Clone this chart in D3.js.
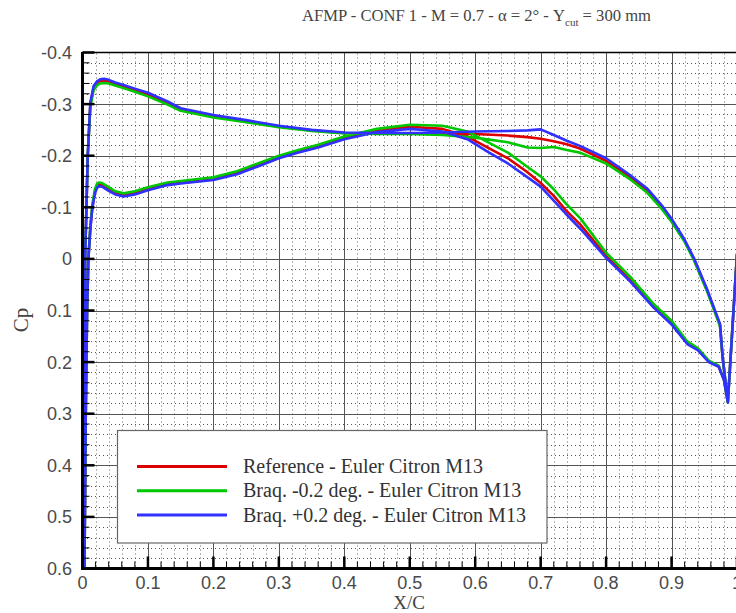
<!DOCTYPE html>
<html>
<head>
<meta charset="utf-8">
<script src="https://cdn.jsdelivr.net/npm/d3@7"></script>
<style>
  body { margin: 0; background: #fff; }
  svg { display: block; }
</style>
</head>
<body>
<svg id="chart" width="736" height="613"></svg>
<script>
// ---- Pressure distribution data (Cp vs X/C) ----
// Upper surface, leading edge -> trailing edge
const upperX = [0, 0.0015, 0.002, 0.003, 0.004, 0.006, 0.008, 0.012, 0.017, 0.022, 0.027, 0.033, 0.04, 0.05, 0.065, 0.08, 0.1, 0.13, 0.15, 0.2, 0.25, 0.3, 0.35, 0.4, 0.45, 0.5, 0.55, 0.6, 0.65, 0.68, 0.7, 0.72, 0.74, 0.76, 0.8, 0.837, 0.863, 0.885, 0.9, 0.92, 0.934, 0.954, 0.974, 0.978, 0.982, 0.986];
const upperRef   = [1.05, 0.6, 0.4, 0.2, 0.0, -0.1, -0.2, -0.3, -0.332, -0.341, -0.345, -0.346, -0.344, -0.34, -0.333, -0.327, -0.319, -0.303, -0.29, -0.277, -0.267, -0.257, -0.249, -0.244, -0.243, -0.243, -0.243, -0.242, -0.239, -0.236, -0.233, -0.228, -0.222, -0.214, -0.19, -0.158, -0.132, -0.1, -0.075, -0.035, 0.0, 0.06, 0.128, 0.19, 0.234, 0.278];
const upperMinus = [1.05, 0.6, 0.4, 0.2, 0.0, -0.1, -0.2, -0.295, -0.327, -0.336, -0.34, -0.341, -0.34, -0.336, -0.33, -0.324, -0.315, -0.299, -0.287, -0.274, -0.265, -0.255, -0.248, -0.243, -0.242, -0.242, -0.24, -0.235, -0.226, -0.216, -0.215, -0.217, -0.211, -0.206, -0.185, -0.154, -0.128, -0.097, -0.072, -0.033, 0.002, 0.062, 0.13, 0.19, 0.234, 0.278];
const upperPlus  = [1.05, 0.6, 0.4, 0.2, 0.0, -0.1, -0.2, -0.303, -0.335, -0.344, -0.348, -0.349, -0.347, -0.342, -0.336, -0.33, -0.322, -0.305, -0.292, -0.279, -0.269, -0.258, -0.25, -0.245, -0.244, -0.244, -0.245, -0.247, -0.248, -0.249, -0.251, -0.24, -0.229, -0.219, -0.195, -0.162, -0.136, -0.104, -0.078, -0.037, -0.002, 0.058, 0.126, 0.19, 0.234, 0.278];

// Lower surface, leading edge -> trailing edge
const lowerX = [0, 0.003, 0.005, 0.007, 0.009, 0.012, 0.015, 0.019, 0.022, 0.025, 0.03, 0.04, 0.05, 0.063, 0.08, 0.1, 0.13, 0.15, 0.2, 0.236, 0.27, 0.3, 0.33, 0.36, 0.4, 0.45, 0.5, 0.55, 0.588, 0.62, 0.65, 0.679, 0.7, 0.72, 0.738, 0.761, 0.8, 0.837, 0.873, 0.9, 0.924, 0.94, 0.957, 0.972, 0.98, 0.986];
const lowerRef   = [1.05, 0.6, 0.3, 0.1, 0.0, -0.06, -0.1, -0.13, -0.14, -0.144, -0.143, -0.135, -0.128, -0.124, -0.128, -0.136, -0.145, -0.148, -0.155, -0.166, -0.182, -0.197, -0.208, -0.218, -0.234, -0.249, -0.256, -0.252, -0.237, -0.215, -0.195, -0.169, -0.147, -0.122, -0.095, -0.066, -0.006, 0.04, 0.092, 0.124, 0.163, 0.175, 0.199, 0.208, 0.234, 0.278];
const lowerMinus = [1.05, 0.6, 0.3, 0.1, 0.0, -0.065, -0.105, -0.135, -0.145, -0.148, -0.147, -0.139, -0.131, -0.127, -0.131, -0.139, -0.148, -0.151, -0.158, -0.17, -0.186, -0.2, -0.211, -0.221, -0.237, -0.252, -0.26, -0.258, -0.247, -0.226, -0.206, -0.179, -0.16, -0.135, -0.108, -0.078, -0.012, 0.035, 0.088, 0.12, 0.16, 0.173, 0.197, 0.207, 0.234, 0.278];
const lowerPlus  = [1.05, 0.6, 0.3, 0.1, 0.0, -0.058, -0.098, -0.127, -0.137, -0.141, -0.14, -0.132, -0.125, -0.121, -0.125, -0.133, -0.143, -0.146, -0.153, -0.164, -0.18, -0.195, -0.206, -0.216, -0.232, -0.246, -0.252, -0.247, -0.232, -0.207, -0.185, -0.159, -0.14, -0.113, -0.088, -0.058, -0.002, 0.044, 0.095, 0.127, 0.165, 0.177, 0.2, 0.209, 0.234, 0.278];

// Trailing-edge base point
const baseX = 1.0;
const baseCp = -0.01;

const seriesNames  = ["Reference - Euler Citron M13", "Braq. -0.2 deg. - Euler Citron M13", "Braq. +0.2 deg. - Euler Citron M13"];
const seriesColors = ["#dc0000", "#00c800", "#3030ff"];

const xTickValues = [0, 0.1, 0.2, 0.3, 0.4, 0.5, 0.6, 0.7, 0.8, 0.9, 1];
const xTickLabels = ["0", "0.1", "0.2", "0.3", "0.4", "0.5", "0.6", "0.7", "0.8", "0.9", "1"];
const yTickValues = [-0.4, -0.3, -0.2, -0.1, 0, 0.1, 0.2, 0.3, 0.4, 0.5, 0.6];
const yTickLabels = ["-0.4", "-0.3", "-0.2", "-0.1", "0", "0.1", "0.2", "0.3", "0.4", "0.5", "0.6"];

// ---- Layout ----
const svg = d3.select("#chart");
const L = 82.5, R = 737, T = 52.5, B = 568.5;

const x = d3.scaleLinear().domain([0, 1]).range([L, R]);
const y = d3.scaleLinear().domain([-0.4, 0.6]).range([T, B]);

svg.append("rect").attr("width", 736).attr("height", 613).attr("fill", "#fff");

svg.append("defs").append("clipPath").attr("id", "plotClip")
  .append("rect").attr("x", L).attr("y", T).attr("width", R - L).attr("height", B - T);

// Minor dotted grid (every 0.02)
const minorX = d3.range(0, 51).map(i => i / 50).filter(v => Math.round(v * 50) % 5 !== 0);
const minorY = d3.range(0, 51).map(i => -0.4 + i / 50).filter(v => Math.round((v + 0.4) * 50) % 5 !== 0);
const grid = svg.append("g").attr("shape-rendering", "crispEdges");
grid.selectAll("line.mx").data(minorX).join("line")
  .attr("x1", d => Math.round(x(d)) + 0.5).attr("x2", d => Math.round(x(d)) + 0.5)
  .attr("y1", T).attr("y2", B)
  .attr("stroke", "#b4b4b4").attr("stroke-width", 1).attr("stroke-dasharray", "2,2");
grid.selectAll("line.my").data(minorY).join("line")
  .attr("x1", L).attr("x2", R)
  .attr("y1", d => Math.round(y(d)) + 0.5).attr("y2", d => Math.round(y(d)) + 0.5)
  .attr("stroke", "#555").attr("stroke-width", 1).attr("stroke-dasharray", "1,3");

// Major grid
grid.selectAll("line.Mx").data(xTickValues.slice(1, -1)).join("line")
  .attr("x1", d => Math.round(x(d)) + 0.5).attr("x2", d => Math.round(x(d)) + 0.5)
  .attr("y1", T).attr("y2", B).attr("stroke", "#555").attr("stroke-width", 1);
grid.selectAll("line.My").data(yTickValues.slice(1, -1)).join("line")
  .attr("x1", L).attr("x2", R)
  .attr("y1", d => Math.round(y(d)) + 0.5).attr("y2", d => Math.round(y(d)) + 0.5)
  .attr("stroke", "#555").attr("stroke-width", 1);

// Top frame line
svg.append("line").attr("x1", L).attr("x2", R).attr("y1", T).attr("y2", T)
  .attr("stroke", "#000").attr("stroke-width", 1.5);

// ---- Curves ----
const line = d3.line().x(d => x(d[0])).y(d => y(d[1]));
const upperSets = [upperRef, upperMinus, upperPlus];
const lowerSets = [lowerRef, lowerMinus, lowerPlus];
const curves = svg.append("g").attr("clip-path", "url(#plotClip)");
seriesNames.forEach((name, i) => {
  const pts = [[baseX, baseCp]];
  for (let k = upperX.length - 1; k >= 0; k--) pts.push([upperX[k], upperSets[i][k]]);
  for (let k = 0; k < lowerX.length; k++) pts.push([lowerX[k], lowerSets[i][k]]);
  curves.append("path").datum(pts)
    .attr("d", line)
    .attr("fill", "none")
    .attr("stroke", seriesColors[i])
    .attr("stroke-width", 2.6)
    .attr("stroke-linejoin", "round");
});

// ---- Legend ----
const legX = 117.5, legY = 430.5, legW = 429.5, legH = 112.5;
const leg = svg.append("g");
leg.append("rect").attr("x", legX).attr("y", legY).attr("width", legW).attr("height", legH)
  .attr("fill", "#fff").attr("stroke", "#666").attr("stroke-width", 1.2);
seriesNames.forEach((name, i) => {
  const ly = 466.5 + i * 24.3;
  leg.append("line").attr("x1", 137).attr("x2", 227).attr("y1", ly).attr("y2", ly)
    .attr("stroke", seriesColors[i]).attr("stroke-width", 3);
  leg.append("text").attr("x", 243).attr("y", ly + 6.5)
    .attr("font-family", "Liberation Serif, serif").attr("font-size", 20)
    .attr("fill", "#333").text(name);
});

// ---- Axes ----
const axes = svg.append("g");
const majTickLen = 12, minTickLen = 7;
axes.selectAll("line.yMinorTick").data(minorY).join("line")
  .attr("x1", L).attr("x2", L + minTickLen)
  .attr("y1", d => y(d)).attr("y2", d => y(d))
  .attr("stroke", "#000").attr("stroke-width", 1);
axes.selectAll("line.yMajorTick").data(yTickValues).join("line")
  .attr("x1", L).attr("x2", L + majTickLen)
  .attr("y1", d => y(d)).attr("y2", d => y(d))
  .attr("stroke", "#000").attr("stroke-width", 2.5);
axes.selectAll("line.xMinorTick").data(minorX).join("line")
  .attr("x1", d => x(d)).attr("x2", d => x(d))
  .attr("y1", B).attr("y2", B - minTickLen)
  .attr("stroke", "#000").attr("stroke-width", 1);
axes.selectAll("line.xMajorTick").data(xTickValues).join("line")
  .attr("x1", d => x(d)).attr("x2", d => x(d))
  .attr("y1", B).attr("y2", B - majTickLen)
  .attr("stroke", "#000").attr("stroke-width", 2.5);
axes.append("line").attr("x1", L).attr("x2", L).attr("y1", T - 0.5).attr("y2", B + 1.5)
  .attr("stroke", "#000").attr("stroke-width", 3);
axes.append("line").attr("x1", L - 1.5).attr("x2", R).attr("y1", B).attr("y2", B)
  .attr("stroke", "#000").attr("stroke-width", 3);

// Tick labels
axes.selectAll("text.yl").data(yTickValues).join("text")
  .attr("x", 72).attr("y", d => y(d) + 6.5)
  .attr("text-anchor", "end")
  .attr("font-family", "Liberation Sans, Arial, sans-serif").attr("font-size", 18)
  .attr("fill", "#4a4a4a")
  .text((d, i) => yTickLabels[i]);
axes.selectAll("text.xl").data(xTickValues).join("text")
  .attr("x", d => x(d)).attr("y", 589)
  .attr("text-anchor", "middle")
  .attr("font-family", "Liberation Sans, Arial, sans-serif").attr("font-size", 18)
  .attr("fill", "#4a4a4a")
  .text((d, i) => xTickLabels[i]);

// Axis titles
svg.append("text").attr("x", 409).attr("y", 609)
  .attr("text-anchor", "middle")
  .attr("font-family", "Liberation Serif, serif").attr("font-size", 19)
  .attr("fill", "#444").text("X/C");
svg.append("text").attr("transform", "translate(28,320) rotate(-90)")
  .attr("text-anchor", "middle")
  .attr("font-family", "Liberation Serif, serif").attr("font-size", 21)
  .attr("fill", "#444").text("Cp");

// Title
const title = svg.append("text").attr("x", 302).attr("y", 21)
  .attr("font-family", "Liberation Serif, serif").attr("font-size", 16.6)
  .attr("fill", "#444");
title.append("tspan").text("AFMP - CONF 1 - M = 0.7 - \u03b1 = 2\u00b0 - Y");
title.append("tspan").attr("font-size", 11).attr("dy", 5).text("cut");
title.append("tspan").attr("dy", -5).text(" = 300 mm");
</script>
</body>
</html>
